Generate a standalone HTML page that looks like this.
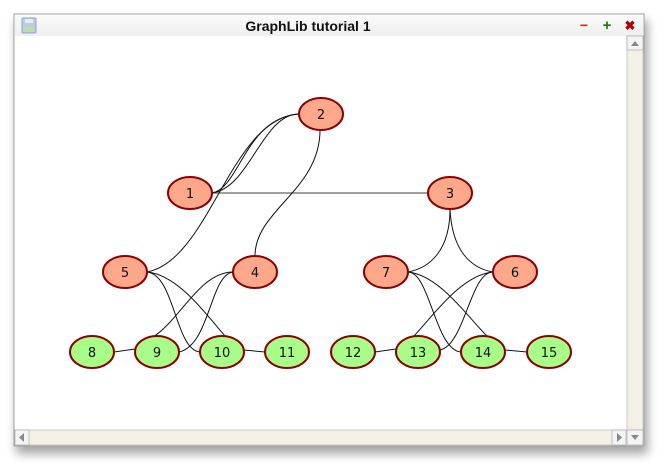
<!DOCTYPE html>
<html><head><style>
html,body{margin:0;padding:0;background:#fff;width:664px;height:467px;overflow:hidden}
</style></head><body>
<svg width="664" height="467" xmlns="http://www.w3.org/2000/svg" style="display:block">
<defs>
<filter id="sh" x="-10%" y="-10%" width="120%" height="130%"><feGaussianBlur stdDeviation="5"/></filter>
<linearGradient id="tb" x1="0" y1="0" x2="0" y2="1"><stop offset="0" stop-color="#fafafa"/><stop offset="1" stop-color="#efefef"/></linearGradient>
</defs>
<rect x="16" y="20" width="632" height="434" fill="#000" opacity="0.35" filter="url(#sh)"/>
<rect x="14" y="14" width="630" height="432" fill="#fff" stroke="#a0a0a0"/>
<rect x="15" y="15" width="628" height="21" fill="url(#tb)"/>
<rect x="22" y="18" width="14" height="15" rx="1" fill="#b8cbe8" stroke="#8fa6cc"/>
<rect x="25" y="19" width="8" height="4" fill="#e6eef8"/>
<rect x="24" y="27" width="10" height="5" fill="#b9e0a0"/>
<text x="308" y="31" text-anchor="middle" font-family="Liberation Sans, sans-serif" font-weight="bold" font-size="14" fill="#111">GraphLib tutorial 1</text>
<text x="584" y="30" text-anchor="middle" font-family="Liberation Sans, sans-serif" font-weight="bold" font-size="14" fill="#c03000">−</text>
<text x="607" y="30" text-anchor="middle" font-family="Liberation Sans, sans-serif" font-weight="bold" font-size="15" fill="#1a7a00">+</text>
<text x="630" y="30" text-anchor="middle" font-family="Liberation Sans, sans-serif" font-weight="bold" font-size="13" fill="#b00000">✖</text>
<rect x="627" y="36" width="16" height="394" fill="#f3f1e6" stroke="#b8b8b8" stroke-width="0.7"/>
<rect x="627" y="36" width="16" height="14" fill="#f4f4f4" stroke="#aaa" stroke-width="0.7"/>
<path d="M631 46 L635 41 L639 46Z" fill="#888"/>
<rect x="627" y="430" width="16" height="15" fill="#f4f4f4" stroke="#aaa" stroke-width="0.7"/>
<path d="M631 435 L639 435 L635 440Z" fill="#888"/>
<rect x="15" y="430" width="612" height="15" fill="#f3f1e6" stroke="#b8b8b8" stroke-width="0.7"/>
<rect x="15" y="430" width="14" height="15" fill="#f4f4f4" stroke="#aaa" stroke-width="0.7"/>
<path d="M24 433 L19 437.5 L24 442Z" fill="#888"/>
<rect x="612" y="430" width="14" height="15" fill="#f4f4f4" stroke="#aaa" stroke-width="0.7"/>
<path d="M617 433 L622 437.5 L617 442Z" fill="#888"/>
<g fill="none" stroke="#111" stroke-width="1">
<path d="M212 193 L429 193" stroke="#666" stroke-width="1.3"/>
<path d="M212 193 C240 188 245 118 299 114"/>
<path d="M212 193 C250 188 262 114 299 114"/>
<path d="M299 114 C230 118 210 260 147 272"/>
<path d="M320 130 C320 190 255 210 255 256"/>
<path d="M147 272 C175 275 175 350 200 352"/>
<path d="M147 272 C180 275 210 320 226 337"/>
<path d="M233 272 C200 272 180 320 153 337"/>
<path d="M233 272 C210 275 210 345 179 352"/>
<path d="M114 352 L135 349"/>
<path d="M244 350 L265 352"/>
<path d="M450 209 C450 250 430 268 408 272"/>
<path d="M450 209 C452 250 470 268 493 272"/>
<path d="M408 272 C430 272 435 350 461 352"/>
<path d="M408 272 C440 275 470 320 488 337"/>
<path d="M493 272 C460 275 430 320 413 337"/>
<path d="M493 272 C470 272 465 345 440 350"/>
<path d="M375 352 L396 349"/>
<path d="M505 350 L527 352"/>
</g>
<g stroke="#8b0000" stroke-width="2" font-family="DejaVu Sans, Liberation Sans, sans-serif" font-size="13">
<g fill="#fda88a">
<ellipse cx="190" cy="193" rx="22" ry="16"/>
<ellipse cx="321" cy="114" rx="22" ry="16"/>
<ellipse cx="450" cy="193" rx="22" ry="16"/>
<ellipse cx="125" cy="272" rx="22" ry="16"/>
<ellipse cx="255" cy="272" rx="22" ry="16"/>
<ellipse cx="386" cy="272" rx="22" ry="16"/>
<ellipse cx="515" cy="272" rx="22" ry="16"/>
</g>
<g fill="#a8fc88">
<ellipse cx="92" cy="352" rx="22" ry="16"/>
<ellipse cx="157" cy="352" rx="22" ry="16"/>
<ellipse cx="222" cy="352" rx="22" ry="16"/>
<ellipse cx="287" cy="352" rx="22" ry="16"/>
<ellipse cx="353" cy="352" rx="22" ry="16"/>
<ellipse cx="418" cy="352" rx="22" ry="16"/>
<ellipse cx="483" cy="352" rx="22" ry="16"/>
<ellipse cx="549" cy="352" rx="22" ry="16"/>
</g>
<g stroke="none" fill="#111" text-anchor="middle">
<text x="190" y="198">1</text><text x="321" y="119">2</text><text x="450" y="198">3</text>
<text x="125" y="277">5</text><text x="255" y="277">4</text><text x="386" y="277">7</text><text x="515" y="277">6</text>
<text x="92" y="357">8</text><text x="157" y="357">9</text><text x="222" y="357">10</text><text x="287" y="357">11</text>
<text x="353" y="357">12</text><text x="418" y="357">13</text><text x="483" y="357">14</text><text x="549" y="357">15</text>
</g>
</g>
</svg>
</body></html>
